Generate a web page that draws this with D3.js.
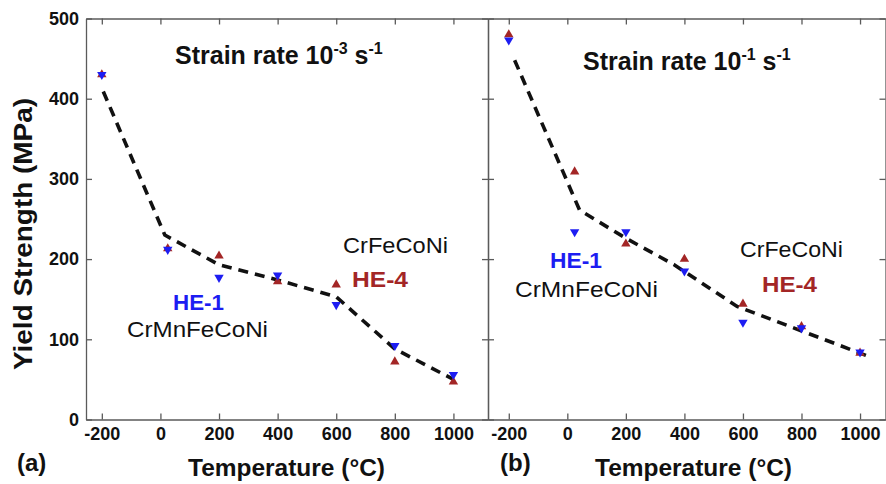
<!DOCTYPE html>
<meta charset="utf-8">
<script src="https://d3js.org/d3.v7.min.js"></script>
<style>
  body { margin: 0; background: #fff; }
  svg text { font-family: "Liberation Sans", Arial, sans-serif; }
  .axis path, .axis line { stroke: #5a5a5a; stroke-width: 1.3; }
  .axis text { font-size: 18px; font-weight: bold; fill: #111; }
</style>
<div id="my_dataviz"></div>
<script>
// temperatures (deg C) where yield strength was measured
var temps = [-200, 25, 200, 400, 600, 800, 1000];
var tempTicks = [-200, 0, 200, 400, 600, 800, 1000];
var strengthTicks = [0, 100, 200, 300, 400, 500];

// (a) strain rate 1e-3 /s
var he1Slow = [430, 212, 177, 180, 143, 92, 56];
var he4Slow = [430, 213, 204, 172, 168, 72, 47];
var fitSlowT = [-195, 15, 200, 400, 600, 800, 1000];
var fitSlowY = [409, 230, 193, 174, 153, 88, 50];

// (b) strain rate 1e-1 /s
var he1Fast = [473, 234, 234, 185, 121, 114, 84];
var he4Fast = [480, 309, 219, 200, 144, 116, 83];
var fitFastT = [-180, 42, 200, 365, 580, 775, 1020];
var fitFastY = [448, 261, 226, 193, 141, 114, 80];

var blue = "#1d1df2", red = "#a32626";

var W = 886, H = 484;
var svg = d3.select("#my_dataviz").append("svg")
  .attr("width", W).attr("height", H);

var y = d3.scaleLinear().domain([0, 500]).range([419.5, 18.5]);
var plain = function(d) { return String(d); };

// the two panels share the divider at x=488
var panels = [
  { x: d3.scaleLinear().domain([-254, 1118]).range([86, 488]),
    he1: he1Slow, he4: he4Slow, fitT: fitSlowT, fitY: fitSlowY, exp: "-3", tx: 175, ty: 64,
    labels: [
      { t: "CrFeCoNi", x: 343, y: 252.5, w: 105, c: "#111", b: "normal" },
      { t: "HE-4", x: 352, y: 287, w: 56, c: red, b: "bold" },
      { t: "HE-1", x: 173, y: 310, w: 51, c: blue, b: "bold" },
      { t: "CrMnFeCoNi", x: 127, y: 337, w: 141, c: "#111", b: "normal" }
    ], tag: "(a)", tagX: 17, titleX: 188 },
  { x: d3.scaleLinear().domain([-271, 1087]).range([488, 885.5]),
    he1: he1Fast, he4: he4Fast, fitT: fitFastT, fitY: fitFastY, exp: "-1", tx: 583, ty: 70,
    labels: [
      { t: "HE-1", x: 550, y: 268, w: 52, c: blue, b: "bold" },
      { t: "CrMnFeCoNi", x: 515, y: 297, w: 143, c: "#111", b: "normal" },
      { t: "CrFeCoNi", x: 740, y: 257, w: 103, c: "#111", b: "normal" },
      { t: "HE-4", x: 762, y: 291.5, w: 55, c: red, b: "bold" }
    ], tag: "(b)", tagX: 500, titleX: 595 }
];

var upTri = "M0,-5.4L4.7,2.7L-4.7,2.7Z";
var downTri = "M0,5.4L4.7,-2.7L-4.7,-2.7Z";

panels.forEach(function(p, i) {
  var x = p.x;
  var x0 = x.range()[0], x1 = x.range()[1];

  // axes (ticks point inwards on every side)
  svg.append("g").attr("class", "axis")
    .attr("transform", "translate(0," + y(0) + ")")
    .call(d3.axisBottom(x).tickValues(tempTicks).tickFormat(plain)
      .tickSizeInner(-6).tickSizeOuter(0).tickPadding(8));
  svg.append("g").attr("class", "axis")
    .attr("transform", "translate(0," + y(500) + ")")
    .call(d3.axisTop(x).tickValues(tempTicks).tickSizeInner(-6).tickSizeOuter(0).tickFormat(""));
  var left = d3.axisLeft(y).tickValues(strengthTicks).tickFormat(plain)
    .tickSizeInner(-6).tickSizeOuter(0).tickPadding(7);
  if (i > 0) left.tickFormat("");
  svg.append("g").attr("class", "axis")
    .attr("transform", "translate(" + x0 + ",0)")
    .call(left);
  svg.append("g").attr("class", "axis")
    .attr("transform", "translate(" + x1 + ",0)")
    .call(d3.axisRight(y).tickValues(strengthTicks).tickSizeInner(-6).tickSizeOuter(0).tickFormat(""));

  // dashed fit line
  var fit = p.fitT.map(function(t, k) { return [t, p.fitY[k]]; });
  svg.append("path")
    .datum(fit)
    .attr("fill", "none")
    .attr("stroke", "#111")
    .attr("stroke-width", 3.6)
    .attr("stroke-dasharray", "10,7")
    .attr("d", d3.line()
      .x(function(d) { return x(d[0]); })
      .y(function(d) { return y(d[1]); }));

  // HE-4 up triangles, HE-1 down triangles
  svg.append("g").selectAll("path")
    .data(temps.map(function(t, k) { return [t, p.he4[k]]; }))
    .enter().append("path")
      .attr("d", upTri)
      .attr("fill", red)
      .attr("transform", function(d) { return "translate(" + x(d[0]) + "," + y(d[1]) + ")"; });
  svg.append("g").selectAll("path")
    .data(temps.map(function(t, k) { return [t, p.he1[k]]; }))
    .enter().append("path")
      .attr("d", downTri)
      .attr("fill", blue)
      .attr("transform", function(d) { return "translate(" + x(d[0]) + "," + y(d[1]) + ")"; });

  // strain rate title
  var st = svg.append("text")
    .attr("x", p.tx).attr("y", p.ty)
    .attr("font-size", 25).attr("font-weight", "bold").attr("fill", "#111");
  st.append("tspan").text("Strain rate 10");
  st.append("tspan").attr("dy", -10).attr("font-size", 16).text(p.exp);
  st.append("tspan").attr("dy", 10).text(" s");
  st.append("tspan").attr("dy", -10).attr("font-size", 16).text("-1");

  // alloy labels
  p.labels.forEach(function(l) {
    svg.append("text")
      .attr("x", l.x).attr("y", l.y)
      .attr("font-size", 22).attr("font-weight", l.b)
      .attr("fill", l.c)
      .attr("textLength", l.w).attr("lengthAdjust", "spacingAndGlyphs")
      .text(l.t);
  });

  // x axis title and panel tag
  svg.append("text")
    .attr("x", p.titleX).attr("y", 476)
    .attr("font-size", 24).attr("font-weight", "bold").attr("fill", "#111")
    .attr("textLength", 197).attr("lengthAdjust", "spacingAndGlyphs")
    .text("Temperature (\u00B0C)");
  svg.append("text")
    .attr("x", p.tagX).attr("y", 471)
    .attr("font-size", 24).attr("font-weight", "bold").attr("fill", "#111")
    .text(p.tag);
});

// y axis title
svg.append("text")
  .attr("transform", "translate(32,234) rotate(-90)")
  .attr("text-anchor", "middle")
  .attr("font-size", 25).attr("font-weight", "bold").attr("fill", "#111")
  .attr("textLength", 272).attr("lengthAdjust", "spacingAndGlyphs")
  .text("Yield Strength (MPa)");
</script>
